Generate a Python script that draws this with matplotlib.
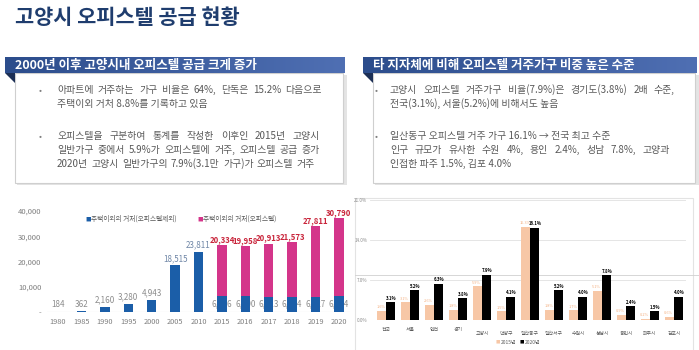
import matplotlib
matplotlib.use("Agg")
import matplotlib.pyplot as plt
import numpy as np
from matplotlib.patches import Rectangle, Polygon
from matplotlib.colors import LinearSegmentedColormap

plt.rcParams['font.family'] = ['Noto Sans CJK KR', 'DejaVu Sans']

# 왼쪽 차트: 주택이외의 거처
years = ['1980', '1985', '1990', '1995', '2000', '2005', '2010',
         '2015', '2016', '2017', '2018', '2019', '2020']
non_housing = [184, 362, 2160, 3280, 4943, 18515, 23811,
               6166, 6190, 6113, 6094, 6127, 6294]
officetel = [0, 0, 0, 0, 0, 0, 0,
             20334, 19958, 20913, 21573, 27811, 30790]

# 오른쪽 차트: 오피스텔 거주가구 비율
regions = ['전국', '서울', '인천', '경기', '고양시', '덕양구', '일산동구',
           '일산서구', '수원시', '성남시', '용인시', '파주시', '김포시']
ratio_2015 = [1.6, 3.1, 2.6, 1.8, 5.9, 1.5, 16.3, 1.8, 1.7, 5.1, 0.9, 0.2, 0.6]
ratio_2020 = [3.1, 5.2, 6.3, 3.8, 7.9, 4.1, 16.1, 5.2, 4.0, 7.8, 2.4, 1.5, 4.0]

# (글머리표, 문장, 양쪽 정렬 오른쪽 끝)
left_lines = [
    ('•', '아파트에 거주하는 가구 비율은 64%, 단독은 15.2% 다음으로', 322),
    ('', '주택이외 거처 8.8%를 기록하고 있음', None),
    ('•', '오피스텔을 구분하여 통계를 작성한 이후인 2015년 고양시', 320),
    ('', '일반가구 중에서 5.9%가 오피스텔에 거주, 오피스텔 공급 증가', 320),
    ('', '2020년 고양시 일반가구의 7.9%(3.1만 가구)가 오피스텔 거주', 315),
]
right_lines = [
    ('•', '고양시 오피스텔 거주가구 비율(7.9%)은 경기도(3.8%) 2배 수준,', 675),
    ('', '전국(3.1%), 서울(5.2%)에 비해서도 높음', None),
    ('•', '일산동구 오피스텔 거주 가구 16.1% → 전국 최고 수준', None),
    ('', '인구 규모가 유사한 수원 4%, 용인 2.4%, 성남 7.8%, 고양과', 670),
    ('', '인접한 파주 1.5%, 김포 4.0%', None),
]

W, H = 699, 350
fig = plt.figure(figsize=(W / 100, H / 100), dpi=100)
fig.patch.set_facecolor('white')

bg = fig.add_axes([0, 0, 1, 1])
bg.axis('off')
bg.set_xlim(0, W)
bg.set_ylim(H, 0)
renderer = fig.canvas.get_renderer()


def px_axes(l, t, r, b):
    return fig.add_axes([l / W, 1 - b / H, (r - l) / W, (b - t) / H])


blue = '#1b5ea8'
pink = '#d4358a'
peach = '#f7c7a6'
navy = '#1f3d6e'
text_gray = '#595959'

# 제목
bg.text(15, 17, '고양시 오피스텔 공급 현황', fontsize=15, fontweight='bold',
        color=navy, va='center', ha='left')

hdr_cmap = LinearSegmentedColormap.from_list('hdr', ['#2c4d8c', '#4f6fb3'])
grad = np.linspace(0, 1, 200).reshape(1, -1)


def put_line(x0, y, s, right, **kw):
    if right is None:
        bg.text(x0, y, s, va='center', **kw)
        return
    words = s.split(' ')
    arts = [bg.text(0, y, w, va='center', **kw) for w in words]
    widths = [a.get_window_extent(renderer).width for a in arts]
    gap = (right - x0 - sum(widths)) / max(len(words) - 1, 1)
    x = x0
    for a, w in zip(arts, widths):
        a.set_x(x)
        x += w + gap


def box(l, r, title, lines, bx, tx):
    # 그림자 + 본문 상자
    bg.add_patch(Rectangle((l + 12, 75), r - l - 10, 110, facecolor='#e4e4e4',
                           edgecolor='none', zorder=1))
    bg.add_patch(Rectangle((l + 10, 73), r - l - 12, 110, facecolor='white',
                           edgecolor='#cfcfcf', lw=0.8, zorder=2))
    # 헤더
    bg.imshow(grad, extent=(l, r, 73, 57), aspect='auto', cmap=hdr_cmap, zorder=3)
    bg.add_patch(Polygon([(l, 73), (l + 10, 73), (l + 10, 83)], closed=True,
                         facecolor='#1c2f55', edgecolor='none', zorder=3))
    bg.text(l + 10, 65, title, fontsize=9, fontweight='bold', color='white',
            va='center', ha='left', zorder=4)
    ys = [90, 103.5, 136, 150, 164]
    for (b, s, right), y in zip(lines, ys):
        if b:
            bg.text(bx, y, b, fontsize=6.5, color='#7f7f7f', va='center', zorder=4)
        put_line(tx, y, s, right, fontsize=7.1, color=text_gray, zorder=4)


box(5, 345, '2000년 이후 고양시내 오피스텔 공급 크게 증가', left_lines, 39, 57)
box(363, 697, '타 지자체에 비해 오피스텔 거주가구 비중 높은 수준', right_lines, 375, 390)

# 오른쪽 차트 테두리
bg.add_patch(Rectangle((355, 198), 338, 154, facecolor='none', edgecolor='#e3e3e3', lw=0.8))
bg.plot([355, 699], [275, 275], color='#d0d0d0', lw=0.6)

# ---------------- 왼쪽 막대 차트 ----------------
ax1 = px_axes(47, 205, 350, 312)
ax1.set_facecolor('none')
x = np.arange(len(years))
ax1.bar(x, non_housing, width=0.4, color=blue, zorder=3)
ax1.bar(x, officetel, width=0.4, bottom=non_housing, color=pink, zorder=3)
ax1.axhline(0, color='#d9d9d9', lw=0.8, zorder=2)
ax1.set_xlim(-0.47, 12.47)
ax1.set_ylim(0, 42376)
ax1.set_yticks([0, 10000, 20000, 30000, 40000])
ax1.set_yticklabels(['-', '10,000', '20,000', '30,000', '40,000'])
ax1.set_xticks(x)
ax1.set_xticklabels(years)
ax1.tick_params(axis='y', length=0, labelsize=5.5, labelcolor='#7f7f7f', pad=4)
ax1.tick_params(axis='x', length=0, labelsize=5.3, labelcolor='#7f7f7f', pad=4)
for s in ax1.spines.values():
    s.set_visible(False)

for i, (nh, of) in enumerate(zip(non_housing, officetel)):
    if of == 0:
        col = '#6f86a6' if nh > 10000 else '#8c8c8c'
        ax1.text(i, nh + 900, f'{nh:,}', ha='center', va='bottom', fontsize=5.8,
                 color=col, zorder=4)
    else:
        ax1.text(i, nh / 2, f'{nh:,}', ha='center', va='center', fontsize=5.8,
                 color='#8c8c8c', zorder=1)
        ax1.text(i, nh + of + 500, f'{of:,}', ha='center', va='bottom', fontsize=5.6,
                 color='#c9253b', fontweight='bold', zorder=4)

bg.text(85, 219, '■', fontsize=4, color=blue, va='center')
bg.text(91, 219, '주택이외의 거처(오피스텔제외)', fontsize=4.8, color=text_gray, va='center')
bg.text(197, 219, '■', fontsize=4, color=pink, va='center')
bg.text(203, 219, '주택이외의 거처(오피스텔)', fontsize=4.8, color=text_gray, va='center')

# ---------------- 오른쪽 막대 차트 ----------------
ax2 = px_axes(370, 200, 686, 320)
ax2.set_facecolor('none')
xr = np.arange(len(regions))
ax2.bar(xr - 0.2, ratio_2015, width=0.37, color=peach, zorder=3)
ax2.bar(xr + 0.2, ratio_2020, width=0.37, color='black', zorder=3)
ax2.set_xlim(-0.667, 12.5)
ax2.set_ylim(0, 21)
ax2.set_yticks([0, 7, 14, 21])
ax2.set_yticklabels(['0.0%', '7.0%', '14.0%', '21.0%'])
ax2.yaxis.grid(True, color='#e0e0e0', lw=0.6)
ax2.set_axisbelow(True)
ax2.set_xticks(xr)
ax2.set_xticklabels([])
ax2.tick_params(axis='y', length=0, labelsize=3.3, labelcolor='#8c8c8c', pad=2)
ax2.tick_params(axis='x', length=0)
for s in ax2.spines.values():
    s.set_visible(False)

for i, (a, b) in enumerate(zip(ratio_2015, ratio_2020)):
    ax2.text(i - 0.22, a + 0.3, f'{a:.1f}%', ha='center', va='bottom', fontsize=2.8,
             color='#f4b183', zorder=4)
    ax2.text(i + 0.22, b + 0.3, f'{b:.1f}%', ha='center', va='bottom', fontsize=3.1,
             color='black', fontweight='bold', zorder=4)
    ax2.text(i, -1.2 if i < 4 else -1.9, regions[i], ha='center', va='top',
             fontsize=3.5, color=text_gray)

bg.text(496, 342, '■', fontsize=3.2, color=peach, va='center')
bg.text(501, 342, '2015년', fontsize=3.5, color=text_gray, va='center')
bg.text(520, 342, '■', fontsize=3.2, color='black', va='center')
bg.text(525, 342, '2020년', fontsize=3.5, color=text_gray, va='center')

bg.set_xlim(0, W)
bg.set_ylim(H, 0)

fig.savefig('out.png', dpi=100)
